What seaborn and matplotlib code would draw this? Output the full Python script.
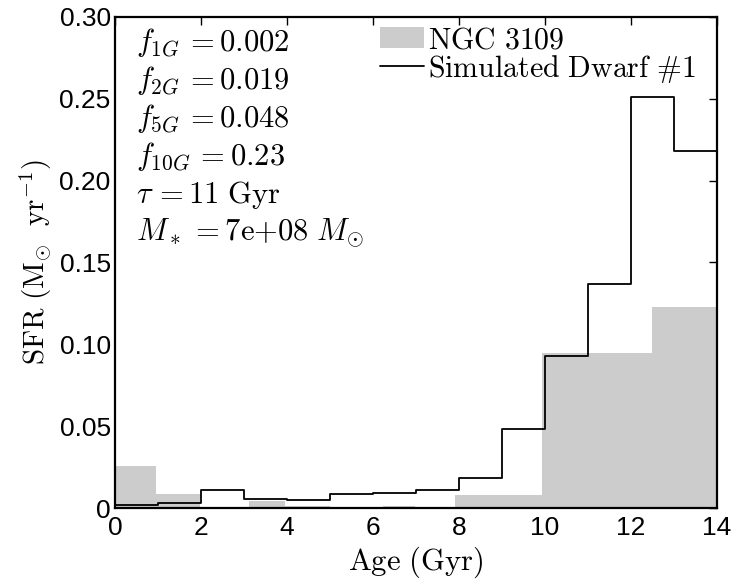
import numpy as np
import pandas as pd
import matplotlib
matplotlib.use("Agg")
import matplotlib.pyplot as plt
import seaborn as sns
from matplotlib.patches import Patch
from matplotlib.lines import Line2D

# ---- data ----
obs_edges = [0.0, 0.95, 1.98, 3.12, 3.95, 5.0, 6.23, 6.98, 7.9, 9.93, 12.49, 14.0]
obs_sfr = [0.026, 0.0083, 0.0, 0.0045, 0.0015, 0.0, 0.0015, 0.0, 0.008, 0.095, 0.123]

sim_edges = list(range(0, 15))
sim_sfr = [0.002, 0.003, 0.011, 0.0055, 0.005, 0.0083, 0.009, 0.011, 0.0185,
           0.0486, 0.093, 0.137, 0.251, 0.218]

ann_lines = [r"$f_{1G}\,{=}0.002$", r"$f_{2G}\,{=}0.019$",
             r"$f_{5G}\,{=}0.048$", r"$f_{10G}\,{=}0.23$",
             r"$\tau\,{=}11\ \mathrm{Gyr}$", r"$M_*\,{=}\mathrm{7e{+}08}\ M_{\odot}$"]

sns.set_theme(style="white")
plt.rcParams["mathtext.fontset"] = "cm"
plt.rcParams["font.family"] = ["Liberation Sans", "DejaVu Sans"]
plt.rcParams["text.color"] = "black"
plt.rcParams["axes.labelcolor"] = "black"

obs_df = pd.DataFrame({"age": [(a + b) / 2 for a, b in zip(obs_edges[:-1], obs_edges[1:])],
                       "sfr": obs_sfr})
sim_df = pd.DataFrame({"age": [(a + b) / 2 for a, b in zip(sim_edges[:-1], sim_edges[1:])],
                       "sfr": sim_sfr})

fig = plt.figure(figsize=(7.36, 5.82), dpi=100)
ax = fig.add_axes([0.156, 0.127, 0.818, 0.844])

sns.histplot(data=obs_df, x="age", weights="sfr", bins=obs_edges, stat="count",
             element="bars", fill=True, color="#cccccc", alpha=1.0, linewidth=0,
             ax=ax)
sns.histplot(data=sim_df, x="age", weights="sfr", bins=sim_edges, stat="count",
             element="step", fill=False, color="black", linewidth=1.3, ax=ax)

ax.set_xlim(0, 14)
ax.set_ylim(0, 0.30)
ax.set_xticks(np.arange(0, 15, 2))
ax.set_yticks([0, 0.05, 0.10, 0.15, 0.20, 0.25, 0.30])
ax.set_yticklabels(["0", "0.05", "0.10", "0.15", "0.20", "0.25", "0.30"])
ax.tick_params(axis="both", direction="in", length=6, width=1.0, labelsize=19,
               top=True, right=True, color="black", labelcolor="black")
ax.tick_params(axis="x", pad=6)
ax.tick_params(axis="y", pad=3)
for s in ax.spines.values():
    s.set_linewidth(1.6)
    s.set_color("black")

ax.set_xlabel(r"$\mathrm{Age\ (Gyr)}$", fontsize=22, labelpad=3, color="black")
ax.set_ylabel(r"$\mathrm{SFR\ (M_{\odot}\ \ yr^{-1})}$", fontsize=21, labelpad=4,
              color="black")

for i, t in enumerate(ann_lines):
    ax.text(0.035, 0.948 - i * 0.0775, t, transform=ax.transAxes, fontsize=22,
            va="center", ha="left", color="black")

handles = [Patch(facecolor="#cccccc", edgecolor="none"),
           Line2D([0], [0], color="black", linewidth=1.3)]
labels = [r"$\mathrm{NGC\ 3109}$", r"$\mathrm{Simulated\ Dwarf\ \#1}$"]
ax.legend(handles, labels, loc="upper right", frameon=False, fontsize=21.5,
          handlelength=1.45, handleheight=0.7, handletextpad=0.15,
          labelspacing=-0.05, borderaxespad=0.0, bbox_to_anchor=(0.985, 1.005),
          labelcolor="black")

fig.savefig("out.png", dpi=100)
